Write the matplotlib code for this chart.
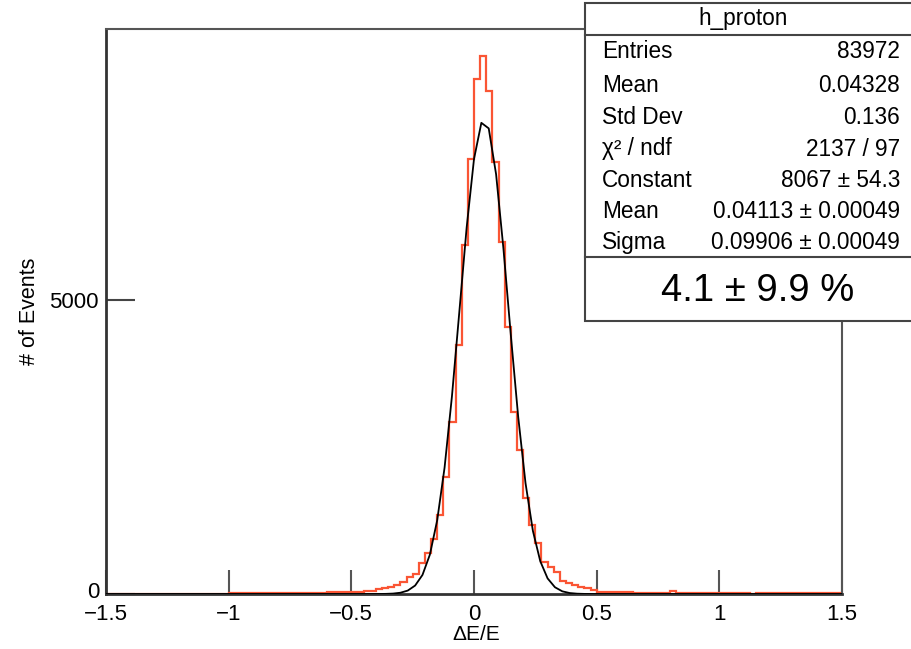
"""
Energy resolution of protons: dE/E histogram with Gaussian fit and ROOT-style stats box.
"""
import numpy as np
import matplotlib
matplotlib.use("Agg")
import matplotlib.pyplot as plt
import matplotlib.transforms as mtransforms
from matplotlib.patches import Rectangle
from matplotlib.lines import Line2D

#### DATA #####
# 120 bins of 0.025 over [-1.5, 1.5]
x_lo = -1.5
x_hi = 1.5
n_bins = 120
# bin contents (left to right)
counts_far_left = [0] * 20
counts_left_tail = [14, 16, 18, 18, 18, 19, 19, 19, 20, 20, 20, 21, 21, 22, 22, 23,
                    26, 27, 28, 30, 33, 38, 45, 51]
counts_core = [80, 107, 124, 153, 199, 294, 340, 522, 692, 940, 1344, 1995,
               2930, 4235, 5935, 7398, 8770, 9155, 8560, 7342, 5991, 4546,
               3100, 2449, 1628, 1173, 862, 540, 464, 370, 215, 185, 153,
               124, 97, 68]
counts_right_tail = [40, 34, 30, 28, 27, 26, 25, 24, 23, 22, 21, 22, 45, 22,
                     21, 21, 20, 20, 20, 20, 19, 19, 19, 19, 19, 0, 18, 18, 18, 18,
                     18, 18, 17, 17, 17, 17, 17, 17, 17, 17]

# fit results as printed in the stats box
fit_constant = 8067
fit_mean = 0.04113
fit_sigma = 0.09906

stats_title = "h_proton"
stats_labels = ["Entries", "Mean", "Std Dev", "χ² / ndf", "Constant", "Mean", "Sigma"]
stats_values = ["83972", "0.04328", "0.136", "2137 / 97", "8067 ± 54.3",
                "0.04113 ± 0.00049", "0.09906 ± 0.00049"]
result_text = "4.1 ± 9.9 %"

x_ticks = [-1.5, -1, -0.5, 0, 0.5, 1, 1.5]
x_ticklabels = ["\u22121.5", "\u22121", "\u22120.5", "0", "0.5", "1", "1.5"]
y_ticks = [0, 5000]
###############

counts = np.array(counts_far_left + counts_left_tail + counts_core + counts_right_tail, dtype=float)
edges = np.linspace(x_lo, x_hi, n_bins + 1)

plt.rcParams["font.family"] = ["Liberation Sans", "DejaVu Sans"]

W, H = 912, 649
fig = plt.figure(figsize=(W / 100, H / 100), dpi=100)
ax = fig.add_axes([106 / W, 1 - 594 / H, (842 - 106) / W, (594 - 29) / H])

# histogram outline
ax.stairs(counts, edges, color="#fa5534", lw=1.6, zorder=2)

# fitted gaussian, drawn as ROOT does with 100 points
xf = np.linspace(x_lo, x_hi, 101)
yf = fit_constant * np.exp(-0.5 * ((xf - fit_mean) / fit_sigma) ** 2)
ax.plot(xf, yf, color="black", lw=1.3, zorder=3)

ax.set_xlim(x_lo, x_hi)
ax.set_ylim(0, 1.05 * counts.max())
ax.set_xticks(x_ticks)
ax.set_xticklabels(x_ticklabels)
ax.set_yticks(y_ticks)
ax.tick_params(axis="x", direction="in", length=17, width=1.5, color="#555555",
               labelsize=16, pad=7)
ax.tick_params(axis="y", direction="in", length=21, width=1.5, color="#444444",
               labelsize=16, pad=5)
for side in ["left", "bottom"]:
    ax.spines[side].set_color("#333333")
    ax.spines[side].set_linewidth(2)
for side in ["top", "right"]:
    ax.spines[side].set_color("#555555")
    ax.spines[side].set_linewidth(1.5)

# nudge the "0" y label up a little so it clears the first x label
fig.canvas.draw()
zero_lab = ax.get_yticklabels()[0]
zero_lab.set_transform(zero_lab.get_transform() +
                       mtransforms.ScaledTranslation(0, 4 / 100, fig.dpi_scale_trans))

# axis titles
fig.text(476 / W, 1 - 635 / H, "ΔE/E", ha="center", va="center", fontsize=15)
fig.text(30 / W, 1 - 311 / H, "# of Events", ha="center", va="center",
         rotation=90, fontsize=15.5)

# stats box
box_l, box_t, box_b = 585, 3, 321
fig.add_artist(Rectangle((box_l / W, 1 - box_b / H), (W + 20 - box_l) / W, (box_b - box_t) / H,
                         transform=fig.transFigure, facecolor="white",
                         edgecolor="#444444", lw=1.5, zorder=5, clip_on=False))
for yl in [35, 257]:
    fig.add_artist(Line2D([box_l / W, 1.02], [1 - yl / H, 1 - yl / H],
                          transform=fig.transFigure, color="#444444", lw=1.5, zorder=6))

fig.text(743 / W, 1 - 19 / H, stats_title, ha="center", va="center",
         fontsize=16.3, zorder=7)
row_y = [52, 85, 117, 149, 180.5, 212, 243]
for lab, val, yy in zip(stats_labels, stats_values, row_y):
    fig.text(602 / W, 1 - yy / H, lab, ha="left", va="center", fontsize=16.3, zorder=7)
    fig.text(900 / W, 1 - yy / H, val, ha="right", va="center", fontsize=16.3, zorder=7)
fig.text(758 / W, 1 - 291 / H, result_text, ha="center", va="center",
         fontsize=27.5, zorder=7)

fig.savefig("out.png", dpi=100, facecolor="white")
